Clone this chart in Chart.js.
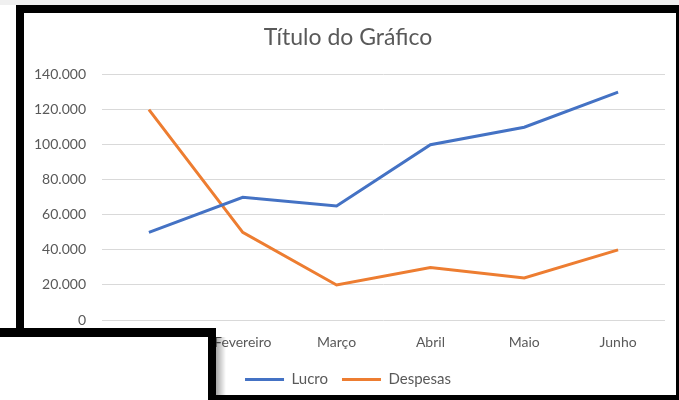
<!DOCTYPE html>
<html>
<head>
<meta charset="utf-8">
<script src="https://cdn.jsdelivr.net/npm/chart.js@4"></script>
<style>
  body { margin: 0; width: 679px; height: 400px; background: #fff; position: relative; overflow: hidden; font-family: Lato, sans-serif; }
  .blk { position: absolute; background: #000; }
  #wrap { position: absolute; left: 24px; top: 13px; width: 652px; height: 384px; background: #fff; }
</style>
</head>
<body>
<div style="position:absolute;left:0;top:0;width:679px;height:5px;background:#f0f0f0"></div>
<div id="wrap"><canvas id="lineChart"></canvas></div>

<!-- moldura preta -->
<div class="blk" style="left:16px;top:5px;width:663px;height:8px"></div>
<div class="blk" style="left:16px;top:5px;width:8px;height:323px"></div>
<div class="blk" style="left:676px;top:5px;width:3px;height:395px"></div>
<div class="blk" style="left:216px;top:395px;width:463px;height:5px"></div>

<!-- janela por cima -->
<div style="position:absolute;left:216px;top:337px;width:10px;height:58px;background:linear-gradient(to right, rgba(0,0,0,0.35), rgba(0,0,0,0))"></div>
<div style="position:absolute;left:0;top:337px;width:208px;height:63px;background:#fff"></div>
<div class="blk" style="left:0;top:328px;width:216px;height:9px"></div>
<div class="blk" style="left:208px;top:328px;width:8px;height:72px"></div>

<script>
const meses = ["Janeiro", "Fevereiro", "Março", "Abril", "Maio", "Junho"];

const lucro = [50000, 70000, 65000, 100000, 110000, 130000];
const despesas = [120000, 50000, 20000, 30000, 24000, 40000];

const yMax = 140000;
const yStep = 20000;

const fonte = "Lato, sans-serif";
const cinza = "#595959";

new Chart(document.getElementById("lineChart"), {
  type: "line",
  data: {
    labels: meses,
    datasets: [
      {
        label: "Lucro",
        data: lucro,
        borderColor: "#4472C4",
        backgroundColor: "#4472C4",
        borderWidth: 3,
        pointRadius: 0,
        tension: 0
      },
      {
        label: "Despesas",
        data: despesas,
        borderColor: "#ED7D31",
        backgroundColor: "#ED7D31",
        borderWidth: 3,
        pointRadius: 0,
        tension: 0
      }
    ]
  },
  options: {
    responsive: true,
    maintainAspectRatio: false,
    animation: false,
    layout: { padding: { left: 7, right: 11, top: 0, bottom: 0 } },
    plugins: {
      title: {
        display: true,
        text: "Título do Gráfico",
        color: cinza,
        font: { family: fonte, size: 23, weight: "normal" },
        padding: { top: 11, bottom: 23 }
      },
      legend: {
        position: "bottom",
        labels: {
          usePointStyle: true,
          pointStyle: "line",
          pointStyleWidth: 39,
          color: cinza,
          font: { family: fonte, size: 15 },
          padding: 14
        }
      },
      tooltip: { enabled: false }
    },
    scales: {
      x: {
        offset: true,
        grid: { display: false, drawTicks: false },
        border: { display: false },
        ticks: { color: cinza, font: { family: fonte, size: 14 }, padding: 14, maxRotation: 0 },
        afterFit: scale => { scale.height = 38; }
      },
      y: {
        min: 0,
        max: yMax,
        grid: { color: "#d9d9d9", drawTicks: false },
        border: { display: false },
        ticks: {
          stepSize: yStep,
          color: cinza,
          font: { family: fonte, size: 14 },
          padding: 16,
          callback: v => v.toLocaleString("pt-BR")
        },
        afterFit: scale => { scale.width = 71; }
      }
    }
  }
});
</script>
</body>
</html>
